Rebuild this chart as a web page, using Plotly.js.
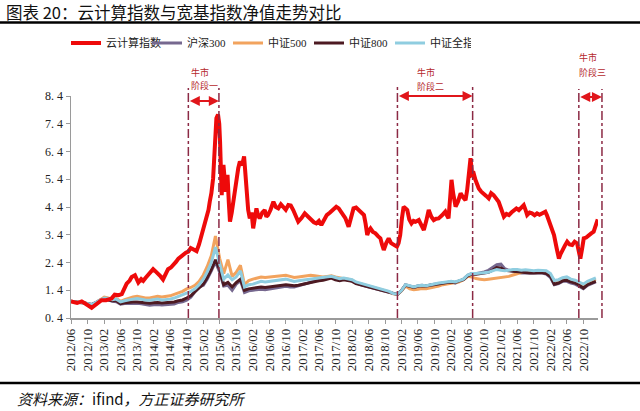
<!DOCTYPE html>
<html lang="zh">
<head>
    <meta charset="UTF-8"/>
    <title>云计算指数与宽基指数净值走势对比</title>
    <script src="https://cdn.plot.ly/plotly-3.0.1.min.js"></script>
    <style>
    body { margin: 0; background: white; }
    #chart { width: 640px; height: 411px; }
    </style>
</head>
<body>
    <div id="chart"></div>
    <script>
        //=============================================================
        // Data (monthly from 2012/06, red index on its own finer grid)

        var seriesNames = ['云计算指数', '沪深300', '中证500', '中证800', '中证全指'];

        var redMonths = [0,0.8,1.5,2.6,3.5,4.2,5,5.8,6.5,7.4,8.5,9.8,10.6,11.5,12.3,13,13.5,14.2,14.7,15.5,16,16.3,17,17.5,18.1,18.7,19.3,19.9,20.5,21.1,21.7,22.3,22.9,23.5,24.2,24.8,25.4,26,26.6,27.2,27.8,28.4,29,29.6,30.4,31,31.6,32.2,32.8,33.3,33.6,34,34.4,34.8,35.2,35.6,35.9,36.1,36.3,36.5,36.7,36.9,37.2,37.4,37.7,37.9,38.2,38.5,38.9,39.3,39.7,40.1,40.5,40.9,41.4,41.9,42.2,42.5,42.9,43.3,43.7,44.1,44.5,44.9,45.3,45.7,46.3,46.9,47.3,47.7,48.3,49,49.6,50.2,50.8,51.4,52,52.6,53.2,53.8,54.4,55,55.8,56.6,57.4,58.2,58.8,59.4,60,60.6,61.2,61.9,62.7,63.5,64.2,64.8,65.6,66.4,67.2,67.8,68.4,69,69.6,70.3,70.9,71.3,71.7,72.1,72.5,73.1,73.7,74.3,74.9,75.3,75.7,76.3,76.9,77.5,78.1,78.9,79.3,79.7,80.1,80.5,81,81.4,81.9,82.4,82.9,83.4,84.2,84.8,85.4,86,86.6,87.2,87.8,88.4,89,89.8,90.6,91,91.4,91.8,92.1,92.5,93.1,93.7,94.3,94.9,95.5,95.9,96.3,96.7,97.1,97.5,97.9,98.3,98.7,99.3,99.9,100.5,101.1,101.7,102.3,102.9,103.5,104.2,104.8,105.4,106,106.6,107.2,107.8,108.4,109,109.6,110,110.4,111,111.6,112.2,112.8,113.4,114,114.4,114.8,115.2,115.7,116.3,116.9,117.5,118.1,118.5,118.9,119.5,120.1,120.7,121.3,121.9,122.5,122.9,123.3,123.7,124.1,124.7,125.3,125.9,126.5,127.1,127.5];
        var redVals = [1.00,0.96,0.94,1.00,0.93,0.85,0.77,0.85,0.95,1.04,1.04,1.10,1.24,1.22,1.26,1.45,1.64,1.75,1.88,1.94,1.78,1.68,1.80,1.74,1.85,1.94,2.05,2.16,2.08,2.00,1.90,1.79,1.98,2.16,2.22,2.30,2.42,2.54,2.62,2.69,2.75,2.79,2.92,2.88,2.81,3.05,3.39,3.70,3.99,4.30,4.59,4.90,5.44,6.64,7.60,7.73,7.40,6.76,5.60,4.83,5.50,5.92,5.40,4.95,5.30,5.56,4.60,3.87,4.20,4.59,5.10,5.56,5.80,6.04,5.90,6.22,5.50,4.83,4.30,3.99,4.20,3.63,4.10,4.35,4.10,3.99,4.20,4.29,4.05,4.11,4.30,4.59,4.40,4.35,4.50,4.41,4.30,4.47,4.45,4.29,4.05,3.87,4.00,4.17,4.05,3.93,3.85,3.81,3.90,3.75,3.95,4.11,4.20,4.29,4.41,4.35,4.17,4.00,3.69,4.05,4.35,4.38,4.29,4.20,4.11,3.80,3.39,3.55,3.63,3.50,3.45,3.35,3.27,3.05,2.85,3.10,3.27,3.10,3.03,2.97,3.10,3.39,4.00,4.41,4.35,4.29,3.95,3.81,3.90,3.87,3.93,3.75,3.57,3.90,4.29,4.05,3.93,3.98,3.99,4.10,4.23,4.10,3.99,4.80,5.38,4.90,4.41,4.60,4.89,4.75,4.65,5.00,5.50,6.16,5.56,5.60,5.38,5.20,5.07,4.95,4.89,4.80,4.71,4.90,4.83,4.70,4.59,4.30,4.05,4.15,4.11,4.20,4.29,4.35,4.29,4.40,4.47,4.30,4.11,4.20,4.17,4.10,4.17,4.12,4.17,4.23,4.23,4.10,3.87,3.60,3.39,2.95,2.54,2.70,2.85,3.00,3.15,3.05,3.03,3.15,3.09,2.80,2.54,2.90,3.27,3.30,3.39,3.45,3.51,3.75,3.95];

        var hs300 = [1.00,0.97,0.96,0.95,0.91,0.89,0.96,1.05,1.10,1.04,1.00,0.99,
                     0.90,0.92,0.93,0.93,0.93,0.91,0.88,0.86,0.88,0.89,0.87,0.88,
                     0.88,0.90,0.96,0.98,1.04,1.15,1.35,1.52,1.58,1.80,2.10,2.42,
                     2.05,1.55,1.58,1.40,1.62,1.75,1.32,1.38,1.40,1.42,1.44,1.42,
                     1.44,1.46,1.48,1.50,1.54,1.52,1.52,1.56,1.60,1.64,1.70,1.74,
                     1.76,1.80,1.84,1.90,1.80,1.76,1.82,1.76,1.74,1.66,1.60,1.56,
                     1.52,1.46,1.42,1.40,1.36,1.32,1.26,1.24,1.40,1.60,1.56,1.50,
                     1.56,1.58,1.55,1.60,1.62,1.64,1.66,1.66,1.70,1.66,1.74,1.80,
                     1.94,2.00,2.00,2.02,2.06,2.12,2.22,2.32,2.34,2.18,2.12,2.10,
                     2.06,2.02,2.02,2.00,2.00,2.02,2.02,1.98,1.86,1.60,1.64,1.72,
                     1.72,1.66,1.62,1.54,1.46,1.58,1.64,1.70];

        var zz500 = [1.00,0.97,0.96,0.95,0.90,0.86,0.95,1.06,1.15,1.12,1.08,1.10,
                     1.00,1.06,1.12,1.16,1.18,1.15,1.12,1.12,1.15,1.18,1.16,1.18,
                     1.20,1.25,1.30,1.36,1.45,1.50,1.58,1.72,1.95,2.25,2.65,3.35,
                     2.55,2.00,2.50,1.90,2.05,2.30,1.60,1.75,1.80,1.85,1.88,1.86,
                     1.88,1.90,1.90,1.92,1.94,1.90,1.86,1.88,1.90,1.92,1.94,1.92,
                     1.90,1.88,1.90,1.92,1.88,1.84,1.82,1.80,1.76,1.68,1.64,1.60,
                     1.55,1.50,1.46,1.42,1.38,1.34,1.27,1.25,1.38,1.55,1.45,1.42,
                     1.44,1.46,1.45,1.48,1.50,1.55,1.60,1.62,1.65,1.66,1.70,1.78,
                     1.90,1.88,1.82,1.80,1.78,1.80,1.82,1.85,1.86,1.88,1.90,1.95,
                     2.00,2.05,2.08,2.08,2.06,2.08,2.08,2.06,1.95,1.72,1.75,1.82,
                     1.84,1.78,1.74,1.68,1.60,1.68,1.74,1.80];

        var zz800 = [1.00,0.97,0.96,0.95,0.91,0.88,0.95,1.04,1.10,1.06,1.02,1.02,
                     0.92,0.95,0.97,0.98,0.98,0.96,0.94,0.93,0.95,0.96,0.94,0.95,
                     0.96,0.98,1.02,1.05,1.12,1.20,1.35,1.50,1.62,1.85,2.15,2.50,
                     2.15,1.60,1.68,1.52,1.68,1.80,1.40,1.45,1.48,1.50,1.52,1.50,
                     1.52,1.54,1.55,1.58,1.60,1.58,1.56,1.58,1.60,1.64,1.68,1.72,
                     1.74,1.76,1.80,1.84,1.78,1.74,1.78,1.74,1.72,1.64,1.60,1.56,
                     1.52,1.48,1.44,1.42,1.38,1.34,1.28,1.25,1.40,1.58,1.54,1.50,
                     1.54,1.56,1.55,1.58,1.60,1.64,1.66,1.68,1.70,1.68,1.74,1.78,
                     1.92,1.98,1.98,2.00,2.02,2.05,2.12,2.22,2.20,2.12,2.10,2.08,
                     2.06,2.04,2.04,2.02,2.02,2.04,2.04,2.00,1.90,1.62,1.66,1.74,
                     1.76,1.70,1.66,1.58,1.48,1.60,1.66,1.72];

        var zzqz = [1.00,0.98,0.97,0.96,0.92,0.88,0.95,1.05,1.12,1.10,1.06,1.08,
                    0.98,1.02,1.06,1.08,1.10,1.07,1.05,1.04,1.06,1.08,1.05,1.06,
                    1.08,1.12,1.18,1.22,1.30,1.36,1.45,1.60,1.80,2.05,2.40,2.95,
                    2.35,1.80,1.95,1.78,1.88,2.10,1.52,1.60,1.62,1.68,1.72,1.70,
                    1.72,1.74,1.76,1.78,1.80,1.76,1.72,1.74,1.76,1.78,1.80,1.82,
                    1.84,1.86,1.88,1.90,1.86,1.82,1.84,1.80,1.78,1.70,1.66,1.62,
                    1.58,1.52,1.48,1.44,1.40,1.36,1.28,1.26,1.40,1.60,1.56,1.52,
                    1.56,1.58,1.56,1.60,1.62,1.66,1.68,1.70,1.72,1.70,1.75,1.80,
                    1.95,2.00,2.00,2.02,2.05,2.05,2.10,2.15,2.12,2.10,2.12,2.15,
                    2.15,2.12,2.14,2.12,2.10,2.12,2.12,2.10,2.00,1.75,1.78,1.85,
                    1.88,1.80,1.76,1.70,1.62,1.72,1.78,1.85];

        // bull market phases (month offsets from 2012/06)
        var phaseNames = ['阶段一', '阶段二', '阶段三'];
        var phaseStart = [28.4, 79.0, 122.9];
        var phaseEnd = [35.8, 97.2, 128.5];

        //=============================================================
        // helpers

        var startMs = Date.UTC(2012, 5, 1);
        function monthDate(m) {
            return new Date(startMs + m * 30.4375 * 86400000).toISOString().slice(0, 10);
        }
        function monthStart(i) {
            var d = new Date(Date.UTC(2012, 5 + i, 1));
            return d.toISOString().slice(0, 10);
        }

        var xRange = ['2012-06-01', '2023-01-17'];
        var r0 = new Date(xRange[0]).getTime(), r1 = new Date(xRange[1]).getTime();
        function paperX(m) {
            return (startMs + m * 30.4375 * 86400000 - r0) / (r1 - r0);
        }
        // pixel -> paper helpers for page furniture
        var L = 71, T = 96, W = 527, H = 222;
        function px(x) { return (x - L) / W; }
        function py(y) { return (T + H - y) / H; }

        var monthX = hs300.map(function (v, i) { return monthStart(i); });

        var tickVals = [], tickText = [];
        for (var i = 0; i <= 124; i += 4) {
            var d = new Date(Date.UTC(2012, 5 + i, 1));
            tickVals.push(monthStart(i));
            tickText.push(d.getUTCFullYear() + '/' + String(d.getUTCMonth() + 1).padStart(2, '0'));
        }
        var yVals = [0.4, 1.4, 2.4, 3.4, 4.4, 5.4, 6.4, 7.4, 8.4];
        var yText = yVals.map(function (v) { return v.toFixed(1).replace('.', '. '); });

        //=============================================================
        // traces

        var colors = ['#ee0a0a', '#76688f', '#f2a35e', '#4d1a22', '#8fcde0'];
        var data = [
            { x: monthX, y: hs300, name: seriesNames[1], legendrank: 2,
              line: { color: colors[1], width: 3 } },
            { x: monthX, y: zz500, name: seriesNames[2], legendrank: 3,
              line: { color: colors[2], width: 3 } },
            { x: monthX, y: zz800, name: seriesNames[3], legendrank: 4,
              line: { color: colors[3], width: 3 } },
            { x: monthX, y: zzqz, name: seriesNames[4], legendrank: 5,
              line: { color: colors[4], width: 3 } },
            { x: redMonths.map(monthDate), y: redVals, name: seriesNames[0], legendrank: 1,
              line: { color: colors[0], width: 4 } }
        ];
        data.forEach(function (t) { t.type = 'scatter'; t.mode = 'lines'; });

        //=============================================================
        // shapes and annotations

        var shapes = [
            { type: 'line', xref: 'paper', yref: 'paper', x0: px(0), x1: px(640), y0: py(22.5), y1: py(22.5),
              line: { color: '#000', width: 2.5 } },
            { type: 'line', xref: 'paper', yref: 'paper', x0: px(0), x1: px(640), y0: py(383), y1: py(383),
              line: { color: '#000', width: 2.5 } }
        ];
        var annotations = [
            { xref: 'paper', yref: 'paper', x: px(4), y: py(12), xanchor: 'left', yanchor: 'middle',
              showarrow: false, text: '图表 20：云计算指数与宽基指数净值走势对比',
              font: { family: 'Noto Sans CJK SC', size: 16.5, color: '#111' } },
            { xref: 'paper', yref: 'paper', x: px(15), y: py(398), xanchor: 'left', yanchor: 'middle',
              showarrow: false, text: '<i>资料来源：</i>ifind<i>，方正证券研究所</i>',
              font: { family: 'Noto Sans CJK SC', size: 15, color: '#111' } }
        ];

        var textLeft = [189, 415, 577];
        var textTop = [[72, 85], [73, 86], [58, 72]];
        var arrowY = [101, 96, 97];
        var lineTop = [88, 85, 89];
        for (var p = 0; p < 3; p++) {
            [phaseStart[p], phaseEnd[p]].forEach(function (m) {
                shapes.push({ type: 'line', xref: 'paper', yref: 'paper', x0: paperX(m), x1: paperX(m),
                    y0: 0, y1: py(lineTop[p]), line: { color: '#8c2a45', width: 1.5, dash: 'dashdot' } });
            });
            annotations.push({ xref: 'x', yref: 'paper', x: monthDate(phaseEnd[p]), y: py(arrowY[p]),
                axref: 'x', ax: monthDate(phaseStart[p]), ayref: 'pixel', ay: 0, text: '',
                showarrow: true, arrowhead: 2, startarrowhead: 2, arrowside: 'end+start',
                arrowsize: 1, startarrowsize: 1, arrowwidth: 2, arrowcolor: '#e0161b', standoff: 0, startstandoff: 0 });
            ['牛市', phaseNames[p]].forEach(function (txt, k) {
                annotations.push({ xref: 'paper', yref: 'paper', x: px(textLeft[p]), y: py(textTop[p][k]),
                    xanchor: 'left', yanchor: 'middle', showarrow: false, text: txt,
                    font: { family: 'Noto Sans CJK SC', size: 9, color: '#b5282c' } });
            });
        }

        var layout = {
            width: 640, height: 411,
            margin: { l: L, r: 640 - L - W, t: T, b: 411 - T - H },
            paper_bgcolor: 'white', plot_bgcolor: 'white',
            showlegend: true,
            legend: {
                orientation: 'h', xref: 'container', yref: 'container',
                x: 66 / 640, y: 1 - 43 / 411, xanchor: 'left', yanchor: 'middle',
                entrywidth: 36, entrywidthmode: 'pixels', traceorder: 'normal',
                font: { family: 'Liberation Serif, Noto Sans CJK SC', size: 11, color: '#222' }
            },
            xaxis: {
                type: 'date', range: xRange, showgrid: false, zeroline: false,
                showline: true, linecolor: '#9a9a9a', linewidth: 1.5,
                ticks: 'outside', ticklen: 4, tickcolor: '#9a9a9a',
                tickmode: 'array', tickvals: tickVals, ticktext: tickText, tickangle: -90,
                tickfont: { family: 'Liberation Serif', size: 13, color: '#222' }
            },
            yaxis: {
                range: [0.4, 8.4], showgrid: false, zeroline: false,
                showline: true, linecolor: '#9a9a9a', linewidth: 1.5,
                ticks: 'outside', ticklen: 4, tickcolor: '#9a9a9a',
                tickmode: 'array', tickvals: yVals, ticktext: yText,
                tickfont: { family: 'Liberation Serif', size: 12, color: '#222' }
            },
            shapes: shapes,
            annotations: annotations
        };

        Plotly.newPlot('chart', data, layout, { staticPlot: true });
    </script>
</body>
</html>
